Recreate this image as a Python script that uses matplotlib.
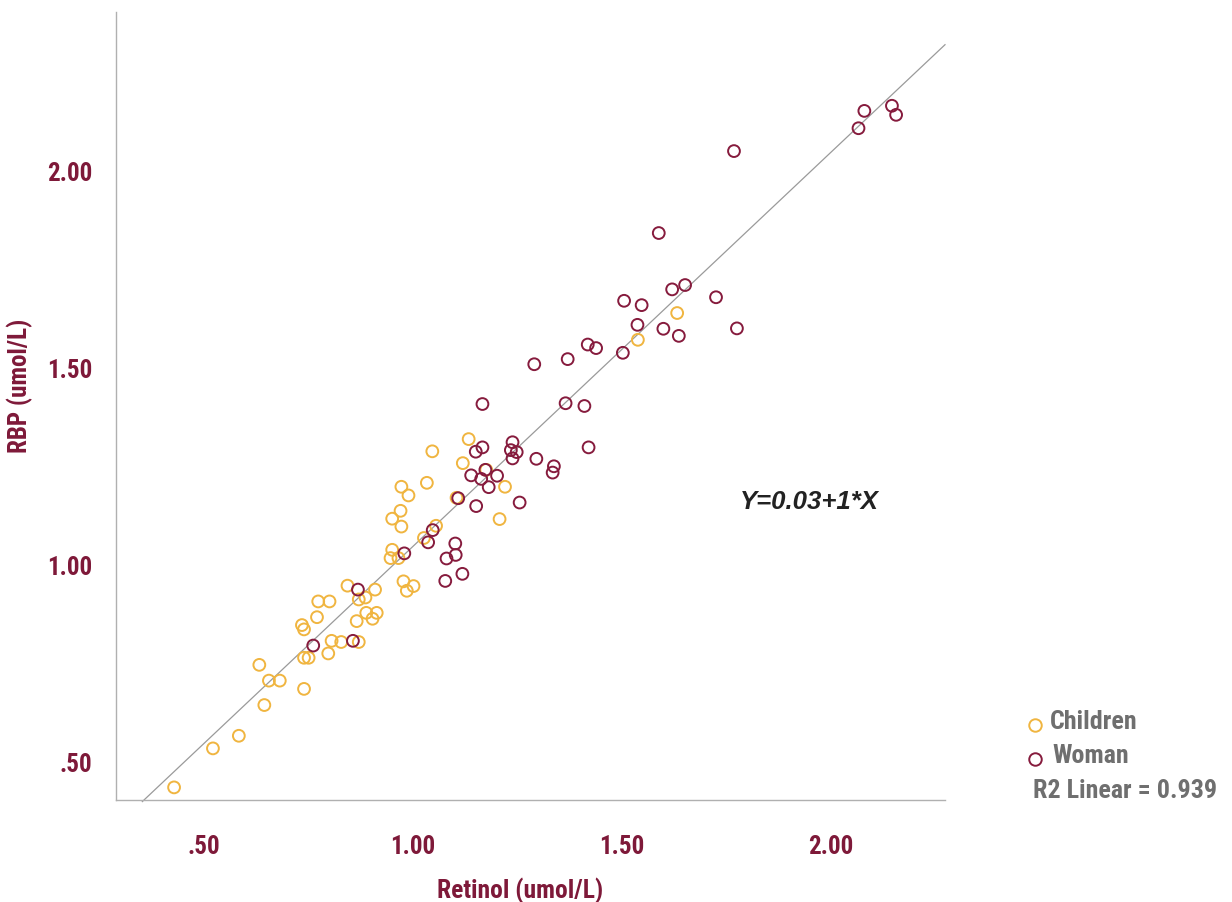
import os
import matplotlib
matplotlib.use("Agg")
import matplotlib.pyplot as plt
from matplotlib import font_manager as fm
import numpy as np

# ---- data ----
children_retinol = [0.428, 0.521, 0.583, 0.644, 0.632, 0.655, 0.681, 0.739, 0.739, 0.750,
                    0.797, 0.805, 0.828, 0.870, 0.734, 0.739, 0.770, 0.773, 0.800, 0.843,
                    0.870, 0.886, 0.909, 0.865, 0.888, 0.903, 0.913, 0.977, 0.985, 1.001,
                    0.950, 0.946, 0.965, 1.026, 1.133, 1.046, 1.119, 1.175, 1.033, 0.972,
                    0.989, 1.220, 1.104, 0.970, 0.950, 0.972, 1.055, 1.207, 1.632, 1.538]
children_rbp = [0.438, 0.537, 0.569, 0.647, 0.749, 0.709, 0.709, 0.688, 0.767, 0.767,
                0.778, 0.810, 0.807, 0.807, 0.850, 0.839, 0.870, 0.910, 0.910, 0.950,
                0.915, 0.920, 0.940, 0.860, 0.881, 0.866, 0.881, 0.961, 0.937, 0.949,
                1.041, 1.020, 1.020, 1.071, 1.322, 1.291, 1.261, 1.244, 1.211, 1.201,
                1.179, 1.201, 1.173, 1.140, 1.120, 1.100, 1.102, 1.119, 1.642, 1.574]

woman_retinol = [0.761, 0.856, 0.868, 0.979, 1.036, 1.047, 1.077, 1.080, 1.102, 1.101,
                 1.118, 1.108, 1.151, 1.139, 1.173, 1.163, 1.201, 1.181, 1.255, 1.150,
                 1.166, 1.166, 1.238, 1.234, 1.248, 1.238, 1.295, 1.337, 1.334, 1.420,
                 1.365, 1.410, 1.290, 1.370, 1.418, 1.438, 1.502, 1.505, 1.547, 1.537,
                 1.599, 1.636, 1.620, 1.651, 1.725, 1.775, 1.588, 1.768, 2.080, 2.066,
                 2.146, 2.156]
woman_rbp = [0.798, 0.810, 0.940, 1.032, 1.060, 1.091, 0.962, 1.019, 1.028, 1.057,
             0.980, 1.172, 1.152, 1.230, 1.244, 1.221, 1.229, 1.200, 1.161, 1.290,
             1.301, 1.411, 1.314, 1.294, 1.289, 1.273, 1.272, 1.253, 1.237, 1.301,
             1.413, 1.406, 1.512, 1.525, 1.562, 1.553, 1.541, 1.673, 1.662, 1.612,
             1.602, 1.584, 1.702, 1.713, 1.682, 1.603, 1.845, 2.053, 2.155, 2.111,
             2.168, 2.145]

xticks = [0.5, 1.0, 1.5, 2.0]
xtick_labels = [".50", "1.00", "1.50", "2.00"]
yticks = [0.5, 1.0, 1.5, 2.0]
ytick_labels = [".50", "1.00", "1.50", "2.00"]

fit_intercept = 0.05
fit_slope = 1.0
fit_x_range = [0.352, 2.273]

equation_text = "Y=0.03+1*X"
r2_text = "R2 Linear = 0.939"
series_names = ["Children", "Woman"]
x_title = "Retinol (umol/L)"
y_title = "RBP (umol/L)"

# ---- style ----
YELLOW = "#F0B540"
MAROON_PT = "#861B3D"
MAROON_TXT = "#7E1939"
GRAY_TXT = "#6F6F6F"


def find_condensed_bold():
    prefs = ["liberationsansnarrow-bold", "robotocondensed-bold", "notosans-condensedbold",
             "opensanscondensed-bold", "opensans_condensed-bold", "dejavusanscondensed-bold"]
    files = {}
    for f in fm.fontManager.ttflist:
        files[os.path.basename(f.fname).lower()] = f.fname
    for p in prefs:
        for base, path in files.items():
            if base.startswith(p) and "italic" not in base and "oblique" not in base:
                return path
    for base, path in files.items():
        if ("narrow" in base or "condensed" in base) and "bold" in base \
                and "italic" not in base and "oblique" not in base \
                and "semi" not in base and "extra" not in base:
            return path
    return None


cond_path = find_condensed_bold()


def fp(size):
    if cond_path:
        return fm.FontProperties(fname=cond_path, size=size)
    return fm.FontProperties(family="Liberation Sans", weight="bold", size=size)


fig = plt.figure(figsize=(12.32, 9.02), dpi=100)
renderer = fig.canvas.get_renderer()


def size_for(text, target_px, base=20.0):
    t = fig.text(0, 0, text, fontproperties=fp(base))
    w = t.get_window_extent(renderer).width
    t.remove()
    return base * target_px / w


tick_size = size_for("2.00", 45.5)
xt_size = size_for(x_title, 166)
yt_size = size_for(y_title, 135)
leg_size = size_for(r2_text, 184)

ax = fig.add_axes([116 / 1232, 1 - 800 / 902, 829 / 1232, 788 / 902])
ax.set_xlim(0.289, 2.273)
ax.set_ylim(0.406, 2.406)

ms = 72
lw = 1.4
ax.scatter(children_retinol, children_rbp, s=ms, facecolors="none",
           edgecolors=YELLOW, linewidths=lw, zorder=3, label=series_names[0])
ax.scatter(woman_retinol, woman_rbp, s=ms, facecolors="none",
           edgecolors=MAROON_PT, linewidths=lw, zorder=4, label=series_names[1])

fx = np.array(fit_x_range)
ax.plot(fx, fit_intercept + fit_slope * fx, color="#9a9a9a", lw=0.9,
        zorder=2, clip_on=False)

for s in ["top", "right"]:
    ax.spines[s].set_visible(False)
for s in ["left", "bottom"]:
    ax.spines[s].set_color("#b0b0b0")
    ax.spines[s].set_linewidth(1.0)

ax.set_xticks(xticks)
ax.set_xticklabels(xtick_labels)
ax.set_yticks(yticks)
ax.set_yticklabels(ytick_labels)
ax.tick_params(axis="both", length=0, labelcolor=MAROON_TXT)
ax.tick_params(axis="x", pad=25)
ax.tick_params(axis="y", pad=17)
for lab in ax.get_xticklabels() + ax.get_yticklabels():
    lab.set_fontproperties(fp(tick_size))

ax.set_xlabel(x_title, fontproperties=fp(xt_size), color=MAROON_TXT)
ax.xaxis.set_label_coords(0.487, -0.098)
ax.set_ylabel(y_title, fontproperties=fp(yt_size), color=MAROON_TXT)
ax.yaxis.set_label_coords(-0.100, 0.525)

# equation
fig.text(740 / 1232, 1 - 502 / 902, equation_text, family=["Liberation Sans", "DejaVu Sans"],
         fontweight="bold", style="italic", fontsize=18.5, color="#222222",
         ha="left", va="center")

# legend (manual)
leg_y = [725, 759]
leg_col = [YELLOW, MAROON_PT]
leg_tx = [1050, 1052]
for name, yy, col, tx in zip(series_names, leg_y, leg_col, leg_tx):
    fig.add_artist(plt.Line2D([1034.5 / 1232], [1 - yy / 902], marker="o",
                              markersize=9, markerfacecolor="none",
                              markeredgecolor=col, markeredgewidth=lw,
                              linestyle="none", transform=fig.transFigure))
    fig.text(tx / 1232, 1 - (yy - 3) / 902, name, fontproperties=fp(leg_size),
             color=GRAY_TXT, ha="left", va="center")
fig.text(1033 / 1232, 1 - 791 / 902, r2_text, fontproperties=fp(leg_size),
         color=GRAY_TXT, ha="left", va="center")

fig.savefig("out.png", dpi=100)
